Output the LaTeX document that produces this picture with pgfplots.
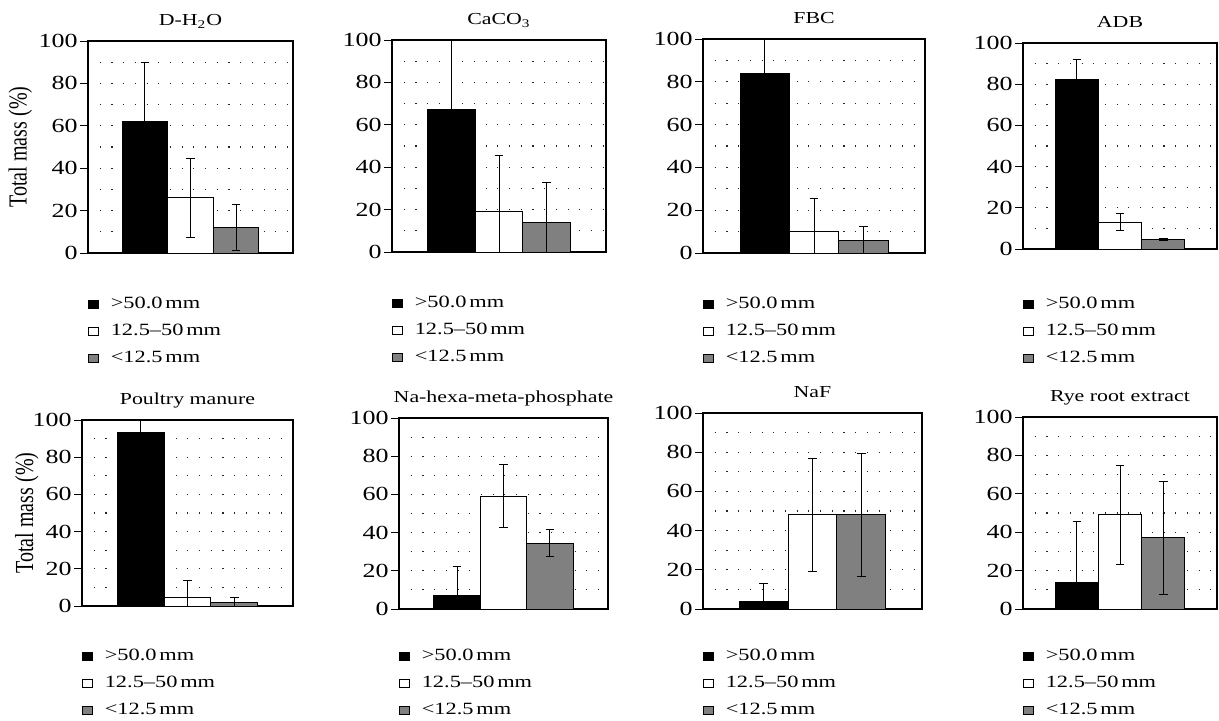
\documentclass[border=0pt]{standalone}
\usepackage{fontspec}
\setmainfont{Liberation Serif}[FakeStretch=1.3]
\newfontfamily\labelfont{Liberation Serif}[FakeStretch=0.77]
\usepackage{pgfplots}
\pgfplotsset{compat=1.18}
\pgfplotsset{
  panel/.style={
    scale only axis, ybar, bar shift=0pt, bar width=1,
    xmin=-0.25, xmax=4.25, ymin=0, ymax=100,
    xtick=\empty, ytick={0,20,...,100}, minor ytick={10,30,50,70,90},
    ymajorgrids, yminorgrids,
    major grid style={black!85, line width=0.55pt, dash pattern=on 0.55pt off 5.3pt},
    minor grid style={black!85, line width=0.55pt, dash pattern=on 0.55pt off 5.3pt},
    ytick pos=left, tick align=outside, major tick length=4pt, minor tick length=0pt,
    tick style={black, line width=0.5pt},
    axis line style={line width=0.6pt},
    /pgf/number format/assume math mode=true,
    yticklabel style={font=\fontsize{10}{11}\selectfont, inner sep=1pt},
    title style={at={(0.5,1)}, anchor=base, yshift=1.6pt, font=\fontsize{8.4}{10}\selectfont},
    legend style={draw=none, fill=none, at={(axis description cs:0,0)}, anchor=north west,
      inner sep=0pt, row sep=3.5pt,
      font=\fontsize{8.6}{10}\selectfont,
      nodes={text height=6pt, text depth=2pt, inner sep=1pt}},
    legend cell align=left,
    legend image code/.code={\path[draw=none,fill=none] (0pt,0pt) -- (10pt,0pt); \draw[##1,draw=black,line width=0.4pt] (0pt,-1.8pt) rectangle (4.6pt,1.8pt);},
    every axis plot/.append style={line width=0.5pt,
      error bars/y dir=both, error bars/y explicit,
      error bars/error bar style={black, line width=0.5pt},
      error bars/error mark options={rotate=90, mark size=2.2pt, black, line width=0.5pt}},
  },
  row1/.style={legend style={yshift=-20.5pt}},
  row2/.style={legend style={yshift=-18.5pt}},
  b1/.style={fill=black, draw=black},
  b2/.style={fill=white, draw=black},
  b3/.style={fill=gray, draw=black},
}
\newcommand{\leg}{\legend{\textgreater50.0\,mm, 12.5–50\,mm, \textless12.5\,mm}}
\begin{document}
\begin{tikzpicture}
\useasboundingbox (0pt,0pt) rectangle (609.5pt,-360pt);
% Row 1
\begin{axis}[panel, row1, at={(44pt,-126.5pt)}, anchor=south west, width=102.5pt, height=106pt,
  title={D-H\textsubscript{2}O},
  ylabel={Total mass (\%)}, ylabel style={at={(axis description cs:-0.30,0.5)}, anchor=base, font=\labelfont\fontsize{13}{15}\selectfont}]
\addplot[b1] coordinates {(1,62) +- (0,28)};
\addplot[b2] coordinates {(2,26) +- (0,18.5)};
\addplot[b3] coordinates {(3,12) +- (0,11)};
\leg
\end{axis}
\begin{axis}[panel, row1, at={(196pt,-126pt)}, anchor=south west, width=107pt, height=106pt,
  title={CaCO\textsubscript{3}}]
\addplot[b1] coordinates {(1,67) +- (0,35)};
\addplot[b2] coordinates {(2,19) +- (0,26.5)};
\addplot[b3] coordinates {(3,14) +- (0,19)};
\leg
\end{axis}
\begin{axis}[panel, row1, at={(351.5pt,-126.5pt)}, anchor=south west, width=111pt, height=107pt,
  title={FBC}]
\addplot[b1] coordinates {(1,84) +- (0,18)};
\addplot[b2] coordinates {(2,10) +- (0,15.5)};
\addplot[b3] coordinates {(3,6) +- (0,6.5)};
\leg
\end{axis}
\begin{axis}[panel, row1, at={(511.5pt,-124.5pt)}, anchor=south west, width=97pt, height=103pt,
  title={ADB}, legend style={yshift=-2pt}]
\addplot[b1] coordinates {(1,82.5) +- (0,9.5)};
\addplot[b2] coordinates {(2,13) +- (0,4)};
\addplot[b3] coordinates {(3,4.5) +- (0,0.5)};
\leg
\end{axis}
% Row 2
\begin{axis}[panel, row2, at={(41pt,-303pt)}, anchor=south west, width=105.5pt, height=93pt,
  title={Poultry manure}, legend style={yshift=-1.5pt},
  ylabel={Total mass (\%)}, ylabel style={at={(axis description cs:-0.232,0.5)}, anchor=base, font=\labelfont\fontsize{13}{15}\selectfont}]
\addplot[b1] coordinates {(1,93.5) +- (0,8)};
\addplot[b2] coordinates {(2,4.5) +- (0,9)};
\addplot[b3] coordinates {(3,2) +- (0,2.5)};
\leg
\end{axis}
\begin{axis}[panel, row2, at={(199.5pt,-304.5pt)}, anchor=south west, width=104.5pt, height=95.5pt,
  title={Na-hexa-meta-phosphate}]
\addplot[b1] coordinates {(1,7) +- (0,15.5)};
\addplot[b2] coordinates {(2,59) +- (0,16.5)};
\addplot[b3] coordinates {(3,34.5) +- (0,7)};
\leg
\end{axis}
\begin{axis}[panel, row2, at={(351.5pt,-304.5pt)}, anchor=south west, width=109.5pt, height=98pt,
  title={NaF}]
\addplot[b1] coordinates {(1,4) +- (0,9)};
\addplot[b2] coordinates {(2,48) +- (0,29)};
\addplot[b3] coordinates {(3,48) +- (0,31.5)};
\leg
\end{axis}
\begin{axis}[panel, row2, at={(511.5pt,-304.5pt)}, anchor=south west, width=97pt, height=96pt,
  title={Rye root extract}]
\addplot[b1] coordinates {(1,14) +- (0,31.5)};
\addplot[b2] coordinates {(2,49) +- (0,26)};
\addplot[b3] coordinates {(3,37) +- (0,29.5)};
\leg
\end{axis}
\end{tikzpicture}
\end{document}
